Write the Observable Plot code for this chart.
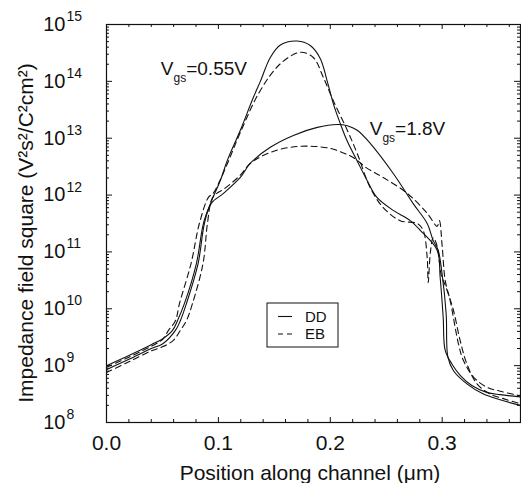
<!DOCTYPE html>
<html>
<head>
<meta charset="utf-8">
<script src="https://cdn.jsdelivr.net/npm/d3@7"></script>
<script src="https://cdn.jsdelivr.net/npm/@observablehq/plot@0.6"></script>
<style>
  html, body { margin: 0; padding: 0; background: #fff; }
  #chart svg { display: block; }
</style>
</head>
<body>
<div id="chart"></div>
<script>
// ---- Data (x in µm, values in V²s²/C²cm²) ----
const dd055X = [0, 0.02, 0.04, 0.05, 0.059, 0.0634, 0.0696, 0.0804, 0.0866, 0.0929, 0.1018, 0.108, 0.1196, 0.1313, 0.1375, 0.1464, 0.1554, 0.1703, 0.1821, 0.1911, 0.197, 0.2027, 0.2089, 0.2149, 0.2238, 0.2328, 0.2417, 0.2563, 0.2714, 0.2804, 0.2955, 0.2982, 0.3009, 0.3027, 0.3087, 0.3161, 0.3265, 0.3399, 0.3518, 0.3696];
const dd055V = [1.0e9, 1.51e9, 2.34e9, 2.95e9, 4.17e9, 6.17e9, 1.23e10, 6.31e10, 3.16e11, 7.08e11, 1.82e12, 4.07e12, 1.38e13, 5.25e13, 1.0e14, 2.63e14, 4.37e14, 5.13e14, 4.27e14, 2.51e14, 1.05e14, 4.07e13, 1.82e13, 9.12e12, 4.07e12, 1.82e12, 9.12e11, 5.37e11, 3.55e11, 2.4e11, 1.07e11, 3.55e10, 7.08e9, 1.86e9, 1.07e9, 6.76e8, 4.47e8, 3.39e8, 3.09e8, 2.82e8];

const eb055X = [0, 0.02, 0.04, 0.05, 0.0554, 0.0616, 0.0652, 0.0756, 0.083, 0.0911, 0.095, 0.1, 0.108, 0.1196, 0.1375, 0.1554, 0.1732, 0.1848, 0.1938, 0.2027, 0.2152, 0.2241, 0.2357, 0.2473, 0.2625, 0.2777, 0.283, 0.2866, 0.2875, 0.2895, 0.292, 0.2955, 0.2991, 0.303, 0.3101, 0.3161, 0.3221, 0.3311, 0.3429, 0.3547, 0.3696];
const eb055V = [9.33e8, 1.41e9, 2.19e9, 2.88e9, 4.17e9, 6.17e9, 1.23e10, 6.31e10, 3.16e11, 9.12e11, 1.05e12, 1.58e12, 3.55e12, 1.26e13, 6.92e13, 2.04e14, 3.24e14, 2.63e14, 1.17e14, 4.57e13, 1.38e13, 5.37e12, 1.35e12, 6.03e11, 3.55e11, 3.16e11, 2.4e11, 7.94e10, 2.88e10, 1.0e11, 1.78e11, 1.26e11, 3.98e10, 2.51e10, 9.33e9, 2.75e9, 1.07e9, 4.79e8, 3.16e8, 2.63e8, 2.14e8];

const dd18X = [0, 0.02, 0.04, 0.05, 0.0616, 0.066, 0.0714, 0.0819, 0.0875, 0.0935, 0.1045, 0.1196, 0.1286, 0.1464, 0.167, 0.1884, 0.2063, 0.2152, 0.2241, 0.2357, 0.2563, 0.2741, 0.2866, 0.292, 0.2964, 0.3, 0.3036, 0.3051, 0.3101, 0.3221, 0.3369, 0.3518, 0.3696];
const dd18V = [8.51e8, 1.29e9, 2.0e9, 2.4e9, 4.17e9, 6.17e9, 1.23e10, 6.31e10, 3.16e11, 7.08e11, 1.07e12, 2.04e12, 3.63e12, 6.92e12, 1.12e13, 1.55e13, 1.74e13, 1.66e13, 1.38e13, 8.13e12, 2.4e12, 7.08e11, 3.16e11, 1.58e11, 1.07e11, 3.98e10, 7.94e9, 1.41e9, 8.13e8, 4.79e8, 3.16e8, 2.51e8, 2.0e8];

const eb18X = [0, 0.02, 0.04, 0.05, 0.06, 0.066, 0.0714, 0.0768, 0.0863, 0.0902, 0.0946, 0.1, 0.1045, 0.1196, 0.1286, 0.1464, 0.1643, 0.1821, 0.2, 0.2116, 0.2205, 0.233, 0.2473, 0.2688, 0.2866, 0.2955, 0.2975, 0.3, 0.3027, 0.3071, 0.3146, 0.319, 0.328, 0.3399, 0.3518, 0.3696];
const eb18V = [7.59e8, 1.17e9, 1.82e9, 2.14e9, 2.82e9, 4.17e9, 6.17e9, 1.23e10, 6.31e10, 3.16e11, 8.91e11, 1.12e12, 1.26e12, 2.24e12, 3.63e12, 5.62e12, 6.92e12, 7.24e12, 6.61e12, 5.5e12, 4.57e12, 2.95e12, 2.04e12, 1.07e12, 4.79e11, 2.82e11, 3.55e11, 1.26e11, 3.16e10, 1.41e10, 2.4e9, 1.23e9, 6.31e8, 4.17e8, 3.55e8, 2.95e8];

const xMajorTicks = [0, 0.1, 0.2, 0.3];
const xMinorTicks = [0.02, 0.04, 0.06, 0.08, 0.12, 0.14, 0.16, 0.18, 0.22, 0.24, 0.26, 0.28, 0.32, 0.34, 0.36];
const yMajorTicks = [1e8, 1e9, 1e10, 1e11, 1e12, 1e13, 1e14, 1e15];
const yMinorTicks = [];
for (let e = 8; e < 15; e++) for (let m = 2; m <= 9; m++) yMinorTicks.push(m * 10 ** e);

const seriesLabels = ["DD", "EB"];
const annotation055 = {main: "V", sub: "gs", rest: "=0.55V", x: 0.049, y: 1.26e14};
const annotation18 = {main: "V", sub: "gs", rest: "=1.8V", x: 0.2357, y: 1.12e13};
const xLabel = "Position along channel (μm)";
const yLabel = "Impedance field square (V²s²/C²cm²)";

const rows = (xs, vs) => xs.map((x, i) => ({x, v: vs[i]}));

const W = 521, H = 483;
const mL = 106, mR = 1, mT = 24, mB = 61;
const pw = W - mL - mR, ph = H - mT - mB;
const ink = "#111";
const fontFamily = "'Liberation Sans', Arial, Helvetica, sans-serif";

const plot = Plot.plot({
  width: W, height: H,
  marginLeft: mL, marginRight: mR, marginTop: mT, marginBottom: mB,
  x: {domain: [0, 0.37], axis: null},
  y: {type: "log", domain: [1e8, 1e15], axis: null},
  style: {fontFamily, background: "#fff", color: ink},
  marks: [
    // curves
    Plot.line(rows(dd055X, dd055V), {x: "x", y: "v", curve: "catmull-rom", stroke: ink, strokeWidth: 1.1}),
    Plot.line(rows(eb055X, eb055V), {x: "x", y: "v", curve: "catmull-rom", stroke: ink, strokeWidth: 1.1, strokeDasharray: "6,4"}),
    Plot.line(rows(dd18X, dd18V), {x: "x", y: "v", curve: "catmull-rom", stroke: ink, strokeWidth: 1.1}),
    Plot.line(rows(eb18X, eb18V), {x: "x", y: "v", curve: "catmull-rom", stroke: ink, strokeWidth: 1.1, strokeDasharray: "6,4"}),
    // inward ticks: bottom & top
    Plot.ruleX(xMajorTicks, {x: d => d, insetTop: ph - 5, stroke: ink}),
    Plot.ruleX(xMinorTicks, {x: d => d, insetTop: ph - 3, stroke: ink}),
    Plot.ruleX(xMajorTicks, {x: d => d, insetBottom: ph - 5, stroke: ink}),
    Plot.ruleX(xMinorTicks, {x: d => d, insetBottom: ph - 3, stroke: ink}),
    // inward ticks: left & right
    Plot.ruleY(yMajorTicks, {y: d => d, insetRight: pw - 6, stroke: ink}),
    Plot.ruleY(yMinorTicks, {y: d => d, insetRight: pw - 3, stroke: ink}),
    Plot.ruleY(yMajorTicks, {y: d => d, insetLeft: pw - 6, stroke: ink}),
    Plot.ruleY(yMinorTicks, {y: d => d, insetLeft: pw - 3, stroke: ink}),
    Plot.frame({stroke: ink, strokeWidth: 1.2}),
    // tick labels
    Plot.text(xMajorTicks, {x: d => d, text: d => d.toFixed(1), frameAnchor: "bottom", lineAnchor: "top", dy: 13, fontSize: 21, fill: ink}),
    Plot.text(yMajorTicks, {y: d => d, text: () => "10", frameAnchor: "left", textAnchor: "end", dx: -41, fontSize: 20, fill: ink}),
    Plot.text(yMajorTicks, {y: d => d, text: d => String(Math.round(Math.log10(d))), frameAnchor: "left", textAnchor: "start", dx: -40, dy: -8, fontSize: 14, fill: ink})
  ]
});

document.getElementById("chart").appendChild(plot);

const svg = d3.select(plot);
const sx = plot.scale("x"), sy = plot.scale("y");

function annotate(a) {
  const t = svg.append("text")
    .attr("x", sx.apply(a.x)).attr("y", sy.apply(a.y))
    .attr("text-anchor", "start")
    .attr("font-family", fontFamily).attr("font-size", 19).attr("fill", ink);
  t.append("tspan").text(a.main);
  t.append("tspan").attr("dy", 7).attr("font-size", 12).text(a.sub);
  t.append("tspan").attr("dy", -7).text(a.rest);
}
annotate(annotation055);
annotate(annotation18);

// axis titles
svg.append("text")
  .attr("x", mL + pw / 2 - 3).attr("y", 480)
  .attr("text-anchor", "middle")
  .attr("font-family", fontFamily).attr("font-size", 21).attr("fill", ink)
  .text(xLabel);
svg.append("text")
  .attr("transform", `translate(33, ${233}) rotate(-90)`)
  .attr("text-anchor", "middle")
  .attr("font-family", fontFamily).attr("font-size", 21).attr("fill", ink)
  .text(yLabel);

// legend box
const lg = svg.append("g").attr("transform", "translate(267,303)");
lg.append("rect").attr("width", 71).attr("height", 44).attr("fill", "#fff").attr("stroke", ink).attr("stroke-width", 1);
[["none", 13.5], ["5,4", 31]].forEach(([dash, y], i) => {
  lg.append("line").attr("x1", 11).attr("x2", 25).attr("y1", y).attr("y2", y)
    .attr("stroke", ink).attr("stroke-width", 1.1).attr("stroke-dasharray", dash);
  lg.append("text").attr("x", 38).attr("y", y).attr("dy", "0.36em")
    .attr("text-anchor", "start")
    .attr("font-family", fontFamily).attr("font-size", 15).attr("fill", ink)
    .text(seriesLabels[i]);
});
</script>
</body>
</html>
